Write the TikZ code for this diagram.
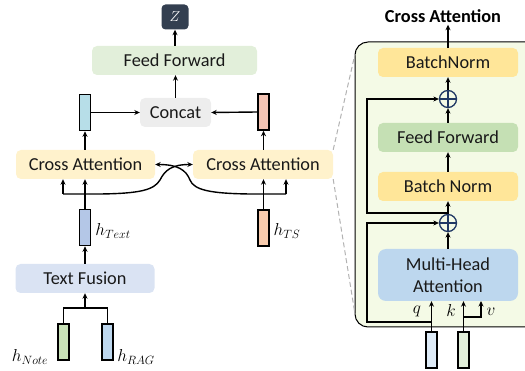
\documentclass[tikz,border=0pt]{standalone}
\usepackage{fontspec}
\setmainfont{Carlito}
\usetikzlibrary{arrows.meta,calc}
\definecolor{cffa}{HTML}{E2EFDA}
\definecolor{cconcat}{HTML}{EDEDED}
\definecolor{cca}{HTML}{FFF2CC}
\definecolor{ctf}{HTML}{DAE3F3}
\definecolor{cbn}{HTML}{FFE699}
\definecolor{cffb}{HTML}{C5E0B4}
\definecolor{cmha}{HTML}{BDD7EE}
\definecolor{cpanel}{HTML}{F4FAE6}
\definecolor{cz}{HTML}{333F50}
\definecolor{cnavy}{HTML}{203864}
\definecolor{vteal}{HTML}{B7DEE8}
\definecolor{vsalmon}{HTML}{F4C4B4}
\definecolor{vtext}{HTML}{B4C7E7}
\definecolor{vts}{HTML}{F8CBAD}
\definecolor{vnote}{HTML}{C9E2B8}
\definecolor{vrag}{HTML}{BDD7EE}
\definecolor{vq}{HTML}{DEEBF7}
\definecolor{vk}{HTML}{E2EFDA}
\tikzset{
  box/.style={rounded corners=5pt, minimum height=29pt, inner sep=0pt,
    font=\fontsize{18.3}{22}\selectfont, text=black!90, align=center},
  vecbox/.style={draw=black, line width=1.6pt, minimum width=11pt, minimum height=36pt, inner sep=0pt},
  arr/.style={-{Stealth[length=5.5pt,width=5pt]}, line width=1.4pt},
  ln/.style={line width=1.4pt},
  lab/.style={font=\fontsize{17.5}{20}\selectfont, inner sep=0pt},
  plusnode/.style={circle, draw=cnavy, line width=1.3pt, fill=cpanel, minimum size=17pt, inner sep=0pt,
    path picture={\draw[cnavy, line width=1.3pt]
      (path picture bounding box.north) -- (path picture bounding box.south)
      (path picture bounding box.west) -- (path picture bounding box.east);}}
}
\begin{document}
\begin{tikzpicture}[x=1pt,y=-1pt]
\useasboundingbox (0,0) rectangle (525,371);

% ---------------- left part ----------------
\node[box, fill=cz, minimum width=27pt, minimum height=25pt, rounded corners=4pt,
      text=white, font=\fontsize{15}{17}\selectfont] (z) at (175,17) {$Z$};
\node[box, fill=cffa, minimum width=165pt] (ff) at (174.5,60.5) {Feed Forward};
\node[box, fill=cconcat, minimum width=71pt] (concat) at (175.5,112.5) {Concat};
\node[vecbox, fill=vteal] (lvec) at (85,112.5) {};
\node[vecbox, fill=vsalmon] (rvec) at (263.5,112) {};
\node[box, fill=cca, minimum width=139pt] (lca) at (85.5,164.5) {Cross Attention};
\node[box, fill=cca, minimum width=140pt] (rca) at (263,164.5) {Cross Attention};
\node[vecbox, fill=vtext] (htext) at (85,227.5) {};
\node[vecbox, fill=vts] (hts) at (263.5,228) {};
\node[lab] (ltext) at (113,231) {$h_{Text}$};
\node[lab] (lts) at (287,231) {$h_{TS}$};
\node[box, fill=ctf, minimum width=139pt] (tf) at (85,278.5) {Text Fusion};
\node[vecbox, fill=vnote] (note) at (63.5,342) {};
\node[vecbox, fill=vrag] (rag) at (107.5,342) {};
\node[lab] (lnote) at (30,357) {$h_{Note}$};
\node[lab] (lrag) at (136,357) {$h_{RAG}$};

\coordinate (fj) at (85,308);
\draw[ln] (note.north) |- (fj) -| (rag.north);
\draw[arr] (fj) -- (fj |- tf.south);
\draw[arr] (htext.south |- tf.north) -- (htext.south);
\draw[arr] (htext.north) -- (htext.north |- lca.south);
\coordinate (lb) at (63,194);
\draw[arr] (lb) -- (lb |- lca.south);
\draw[arr] (lb) -- (100,194) .. controls (140,193.5) and (154,190) .. (160,180)
      .. controls (165,170) and (172,164.5) .. (rca.west);
\coordinate (rb) at (286,194);
\draw[arr] (rb) -- (rb |- rca.south);
\draw[arr] (rb) -- (250,194) .. controls (210,193.5) and (194,190) .. (190,180)
      .. controls (186,170) and (178,164.5) .. (lca.east);
\draw[arr] (hts.north) -- (hts.north |- rca.south);
\draw[arr] (lvec.south |- lca.north) -- (lvec.south);
\draw[arr] (rvec.south |- rca.north) -- (rvec.south);
\draw[arr] (lvec.east) -- (concat.west);
\draw[arr] (rvec.west) -- (concat.east);
\draw[arr] (concat.north) -- (concat.north |- ff.south);
\draw[arr] (z.south |- ff.north) -- (z.south);

% ---------------- right panel ----------------
\coordinate (ptl) at (355,42);
\coordinate (pbr) at (545,327);
\draw[line width=1pt, fill=cpanel, rounded corners=13pt] (ptl) rectangle (pbr);
\coordinate (dtop) at (355,54);
\coordinate (dbot) at (355,314);
\draw[gray!60, line width=1pt, dash pattern=on 5pt off 3pt] (rca.north east) -- (dtop);
\draw[gray!60, line width=1pt, dash pattern=on 5pt off 3pt] (rca.south east) -- (dbot);

\node[font=\bfseries\fontsize{18.3}{21}\selectfont, inner sep=2pt] (title) at (443,16) {Cross Attention};
\node[box, fill=cbn, minimum width=140pt] (bn1) at (448,62.5) {BatchNorm};
\node[plusnode] (p1) at (448,99) {};
\node[box, fill=cffb, minimum width=140pt] (ff2) at (448,137.5) {Feed Forward};
\node[box, fill=cbn, minimum width=140pt] (bn2) at (448,186.5) {Batch Norm};
\node[plusnode] (p2) at (448,223) {};
\node[box, fill=cmha, minimum width=140pt, minimum height=52pt, rounded corners=8pt] (mha) at (448,275) {Multi-Head\\Attention};
\node[vecbox, fill=vq] (qv) at (431.5,350) {};
\node[vecbox, fill=vk] (kv) at (463.5,350) {};
\node[lab] (lq) at (417,311) {$q$};
\node[lab] (lk) at (451,311) {$k$};
\node[lab] (lv) at (491,312) {$v$};

\draw[arr] (bn1.north) -- (bn1.north |- title.south);
\draw[arr] (p1.north) -- (bn1.south);
\draw[arr] (ff2.north) -- (p1.south);
\draw[arr] (bn2.north) -- (ff2.south);
\draw[arr] (p2.north) -- (bn2.south);
\draw[arr] (mha.north) -- (p2.south);
\coordinate (r1) at (448,213);
\coordinate (c1) at (367,213);
\draw[arr] (r1) -- (c1) |- (p1.west);
\coordinate (qj) at (431.5,322);
\coordinate (c2) at (367,322);
\draw[arr] (qj) -- (c2) |- (p2.west);
\draw[arr] (qv.north) -- (qv.north |- mha.south);
\draw[arr] (kv.north) -- (kv.north |- mha.south);
\coordinate (kj) at (463.5,317);
\coordinate (vend) at (481,301);
\draw[arr] (kj) -| (vend);
\end{tikzpicture}
\end{document}
